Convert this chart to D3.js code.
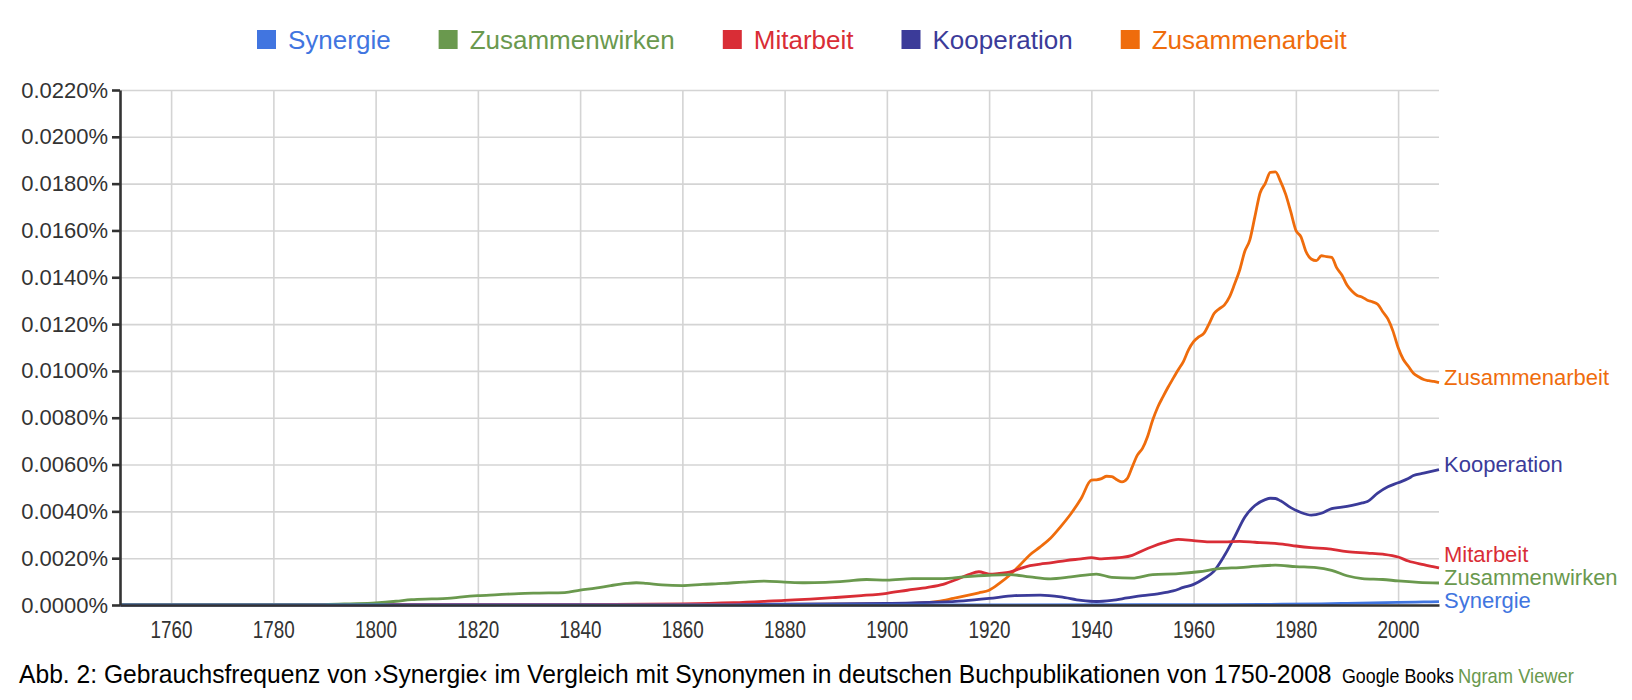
<!DOCTYPE html>
<html>
<head>
<meta charset="utf-8">
<script src="https://cdn.jsdelivr.net/npm/d3@7"></script>
<style>
body{margin:0;background:#fff;}
</style>
</head>
<body>
<script>
// series names and colours, in legend order
var names = ["Synergie", "Zusammenwirken", "Mitarbeit", "Kooperation", "Zusammenarbeit"];
var colors = ["#4175e0", "#6a994e", "#d92d36", "#3b3b99", "#ef6c0c"];

// [year, percent]
var synergie = [[1750,0],[1900,0],[1950,0.00001],[1965,0.00001],[1975,0.00003],[1985,0.00005],[1990,0.00007],
  [1995,0.00009],[2000,0.00011],[2005,0.00013],[2008,0.00014]];

var zusammenwirken = [[1750,0.00001],[1780,0.00001],[1790,0.00002],[1795,0.00005],[1800,0.00009],[1804,0.00016],
  [1807,0.00023],[1811,0.00026],[1814,0.00028],[1817,0.00035],[1820,0.0004],[1824,0.00044],[1828,0.00049],
  [1832,0.00051],[1837,0.00053],[1840,0.00064],[1843,0.00072],[1846,0.00083],[1849,0.00092],[1851,0.00095],
  [1853,0.00092],[1856,0.00086],[1860,0.00083],[1864,0.00088],[1868,0.00092],[1872,0.00098],[1876,0.00102],
  [1880,0.00098],[1884,0.00095],[1888,0.00097],[1892,0.00102],[1896,0.00109],[1900,0.00106],[1905,0.00113],
  [1911,0.00113],[1915,0.0012],[1920,0.00127],[1924,0.0013],[1928,0.0012],[1932,0.00112],[1936,0.0012],
  [1941,0.00132],[1944,0.00118],[1948,0.00115],[1952,0.0013],[1957,0.00134],[1961,0.00142],[1965,0.00155],
  [1969,0.0016],[1973,0.00167],[1976,0.0017],[1980,0.00164],[1984,0.0016],[1987,0.00148],[1990,0.00125],
  [1993,0.00113],[1997,0.00109],[2000,0.00103],[2004,0.00097],[2008,0.00094]];

var mitarbeit = [[1750,0.00001],[1800,0.00001],[1840,0.00002],[1860,0.00005],[1870,0.0001],[1880,0.0002],
  [1885,0.00025],[1890,0.00032],[1895,0.0004],[1900,0.0005],[1904,0.00063],[1908,0.00075],[1911,0.00088],
  [1914,0.00112],[1916,0.0013],[1918,0.00142],[1920,0.00132],[1922,0.00135],[1924,0.0014],[1926,0.00155],
  [1928,0.00168],[1930,0.00175],[1932,0.0018],[1935,0.0019],[1938,0.00197],[1940,0.00202],[1942,0.00197],
  [1944,0.002],[1946,0.00203],[1948,0.00212],[1950,0.00232],[1952,0.0025],[1954,0.00265],[1957,0.0028],
  [1960,0.00275],[1963,0.0027],[1966,0.0027],[1969,0.00272],[1972,0.00268],[1975,0.00264],[1978,0.00258],
  [1980,0.00252],[1983,0.00245],[1986,0.00241],[1990,0.00228],[1994,0.00222],[1997,0.00217],[2000,0.00205],
  [2002,0.00188],[2005,0.00172],[2008,0.00158]];

var kooperation = [[1750,0.00002],[1800,0.00002],[1850,0.00002],[1880,0.00004],[1900,0.00007],[1910,0.00012],
  [1915,0.00018],[1920,0.00028],[1925,0.0004],[1930,0.00042],[1934,0.00035],[1938,0.0002],[1941,0.00015],
  [1944,0.0002],[1947,0.0003],[1950,0.0004],[1953,0.00048],[1956,0.0006],[1958,0.00075],[1960,0.00088],
  [1962,0.00112],[1964,0.00145],[1966,0.0021],[1968,0.0029],[1970,0.00375],[1972,0.00425],[1974,0.0045],
  [1975,0.00456],[1976,0.00455],[1977,0.00445],[1979,0.00416],[1981,0.00395],[1983,0.00384],[1985,0.00392],
  [1987,0.00412],[1989,0.00418],[1991,0.00426],[1993,0.00436],[1994,0.00442],[1996,0.00478],[1998,0.00505],
  [2000,0.00522],[2002,0.0054],[2003,0.00553],[2005,0.00563],[2008,0.00578]];

var zusammenarbeit = [[1750,0.00001],[1800,0.00001],[1850,0.00002],[1880,0.00003],[1900,0.00005],[1906,0.00008],
  [1910,0.00015],[1913,0.00028],[1916,0.00042],[1918,0.00052],[1920,0.00063],[1922,0.00092],[1924,0.00127],
  [1926,0.0017],[1928,0.00215],[1930,0.00248],[1932,0.00285],[1934,0.00335],[1936,0.0039],[1938,0.00455],
  [1940,0.00533],[1941,0.00535],[1942,0.0054],[1943,0.0055],[1944,0.00548],[1945,0.00535],[1946,0.00526],
  [1947,0.0054],[1948,0.0059],[1949,0.0064],[1950,0.00669],[1951,0.0072],[1952,0.0079],[1953,0.00846],
  [1954,0.00889],[1955,0.0093],[1956,0.00968],[1957,0.01005],[1958,0.0104],[1959,0.0109],[1960,0.01125],
  [1961,0.01145],[1962,0.0116],[1963,0.012],[1964,0.01245],[1965,0.01265],[1966,0.01281],[1967,0.01315],
  [1968,0.0137],[1969,0.0143],[1970,0.0151],[1971,0.0156],[1972,0.0166],[1973,0.0176],[1974,0.018],
  [1975,0.01848],[1976,0.0185],[1977,0.0181],[1978,0.01755],[1979,0.0168],[1980,0.01601],[1981,0.01573],
  [1982,0.01509],[1983,0.01478],[1984,0.01471],[1985,0.01492],[1986,0.01488],[1987,0.01485],[1988,0.0144],
  [1989,0.0141],[1990,0.01367],[1991,0.0134],[1992,0.01322],[1993,0.01315],[1994,0.01302],[1995,0.01295],
  [1996,0.01285],[1997,0.01253],[1998,0.01222],[1999,0.0117],[2000,0.011],[2001,0.0105],[2002,0.0102],
  [2003,0.0099],[2004,0.00975],[2005,0.00963],[2006,0.00958],[2007,0.00955],[2008,0.0095]];

var series = [synergie, zusammenwirken, mitarbeit, kooperation, zusammenarbeit];

var yTicks = [0, 0.002, 0.004, 0.006, 0.008, 0.01, 0.012, 0.014, 0.016, 0.018, 0.02, 0.022];
var xTicks = [1760, 1780, 1800, 1820, 1840, 1860, 1880, 1900, 1920, 1940, 1960, 1980, 2000];

var caption = "Abb. 2: Gebrauchsfrequenz von \u203aSynergie\u2039 im Vergleich mit Synonymen in deutschen Buchpublikationen von 1750-2008";

var W = 1632, H = 700;
var plotL = 120, plotR = 1439, plotT = 90, plotB = 605;
var sans = "'Liberation Sans', Arial, sans-serif";

var svg = d3.select("body").append("svg")
  .attr("width", W)
  .attr("height", H);

var x = d3.scaleLinear().domain([1750, 2008]).range([plotL, plotR]);
var y = d3.scaleLinear().domain([0, 0.022]).range([plotB, plotT]);

// squeeze a text horizontally to a given width (the original uses a narrow face)
function narrowText(sel, px, py, size, width, fill, str) {
  var t = sel.append("text")
    .attr("font-family", sans)
    .attr("font-size", size)
    .attr("fill", fill)
    .text(str);
  var k = width / t.node().getComputedTextLength();
  t.attr("transform", "translate(" + px + "," + py + ") scale(" + k + ",1)");
  return t;
}

// grid
svg.append("g")
  .attr("transform", "translate(" + plotL + ",0)")
  .call(d3.axisLeft(y).tickValues(yTicks).tickSize(-(plotR - plotL)).tickFormat(""))
  .call(function(g){
    g.select(".domain").remove();
    g.selectAll("line").attr("stroke", "#d4d4d4").attr("stroke-width", 1.6);
  });
svg.append("g")
  .attr("transform", "translate(0," + plotB + ")")
  .call(d3.axisBottom(x).tickValues(xTicks).tickSize(-(plotB - plotT)).tickFormat(""))
  .call(function(g){
    g.select(".domain").remove();
    g.selectAll("line").attr("stroke", "#d4d4d4").attr("stroke-width", 1.6);
  });

// lines, last legend entry drawn first
var line = d3.line()
  .x(function(d){ return x(d[0]); })
  .y(function(d){ return y(d[1]); })
  .curve(d3.curveMonotoneX);

for (var i = series.length - 1; i >= 0; i--) {
  svg.append("path")
    .attr("d", line(series[i]))
    .attr("fill", "none")
    .attr("stroke", colors[i])
    .attr("stroke-width", 2.8)
    .attr("stroke-linejoin", "round");
}

// axes
svg.append("g")
  .attr("transform", "translate(" + plotL + ",0)")
  .call(d3.axisLeft(y).tickValues(yTicks).tickSize(8).tickSizeOuter(0).tickPadding(4)
    .tickFormat(function(d){ return d3.format(".4f")(d) + "%"; }))
  .call(function(g){
    g.select(".domain").attr("stroke", "#333").attr("stroke-width", 2.6);
    g.selectAll(".tick line").attr("stroke", "#333").attr("stroke-width", 2.6);
    g.selectAll("text").attr("font-family", sans).attr("font-size", 22).attr("fill", "#333");
  });

svg.append("g")
  .attr("transform", "translate(0," + plotB + ")")
  .call(d3.axisBottom(x).tickValues(xTicks).tickSize(0).tickSizeOuter(0).tickPadding(16)
    .tickFormat(d3.format("d")))
  .call(function(g){
    g.select(".domain").attr("stroke", "#333").attr("stroke-width", 2.6);
    g.selectAll("text").attr("font-family", sans).attr("font-size", 24).attr("fill", "#333")
      .attr("textLength", 42).attr("lengthAdjust", "spacingAndGlyphs");
  });

// labels at line ends, pushed apart from the bottom up
var ends = series.map(function(s, i){
  return {name: names[i], color: colors[i], y: y(s[s.length - 1][1]) + 2};
});
ends.sort(function(a, b){ return b.y - a.y; });
ends[0].y = Math.max(ends[0].y, plotB + 3);
for (var k = 1; k < ends.length; k++) {
  if (ends[k].y > ends[k - 1].y - 22.5) ends[k].y = ends[k - 1].y - 22.5;
}
svg.selectAll(".endlabel")
  .data(ends)
  .enter().append("text")
  .attr("class", "endlabel")
  .attr("x", plotR + 5)
  .attr("y", function(d){ return d.y; })
  .attr("font-family", sans)
  .attr("font-size", 22)
  .attr("fill", function(d){ return d.color; })
  .text(function(d){ return d.name; });

// legend
var lx = 288;
names.forEach(function(n, i){
  svg.append("rect")
    .attr("x", lx - 31).attr("y", 30)
    .attr("width", 19).attr("height", 19)
    .attr("fill", colors[i]);
  var t = svg.append("text")
    .attr("x", lx).attr("y", 49)
    .attr("font-family", sans)
    .attr("font-size", 26)
    .attr("fill", colors[i])
    .text(n);
  lx += t.node().getComputedTextLength() + 79;
});

// caption
narrowText(svg, 19, 683, 26, 1313, "#000", caption);
narrowText(svg, 1342, 683, 20, 112, "#000", "Google Books");
narrowText(svg, 1458, 683, 20, 116, "#6a994e", "Ngram Viewer");
</script>
</body>
</html>
